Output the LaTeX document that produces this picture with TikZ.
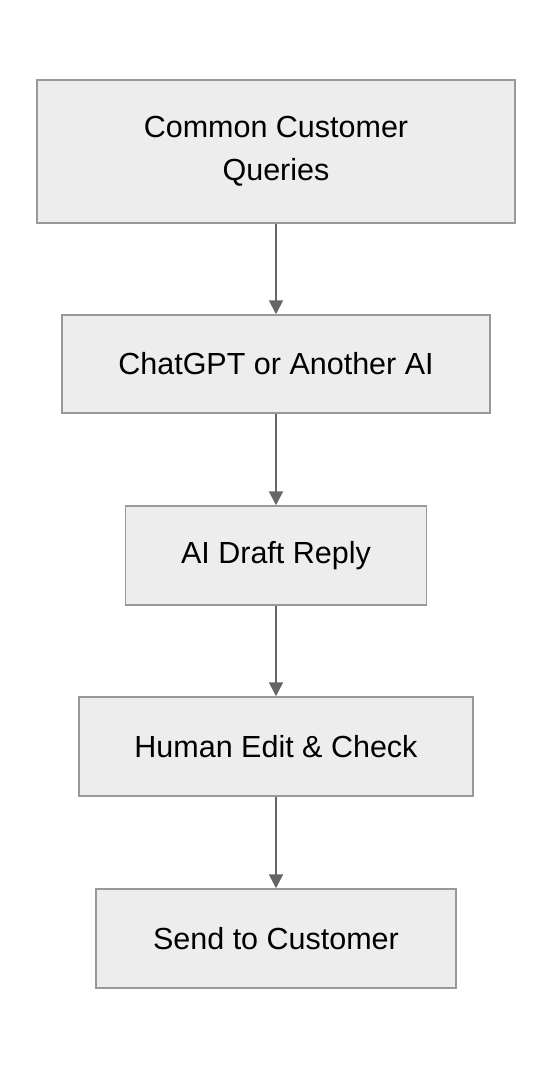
\documentclass[tikz,border=0pt]{standalone}
\usepackage{fontspec}
\setmainfont{Liberation Sans}
\usetikzlibrary{arrows.meta}

\begin{document}
\begin{tikzpicture}[x=1pt,y=-1pt]
\tikzstyle{every node}=[draw=black!40, fill=black!7, line width=1.5pt, align=center, inner sep=0pt, font=\fontsize{30.5}{43}\selectfont]
\tikzstyle{flow}=[draw=black!60, line width=2pt, -{Triangle[length=14pt,width=14pt]}]
\useasboundingbox (0,0) rectangle (552,1068);
\node (q1) [minimum width=478pt, minimum height=143pt] at (276,151.5) {Common Customer\\Queries};
\node (q2) [minimum width=428pt, minimum height=98pt] at (276,364) {ChatGPT or Another AI};
\node (q3) [minimum width=301pt, minimum height=99pt] at (276,555.5) {AI Draft Reply};
\node (q4) [minimum width=394pt, minimum height=99pt] at (276,746.5) {Human Edit \& Check};
\node (q5) [minimum width=360pt, minimum height=99pt] at (276,938.5) {Send to Customer};
\draw[flow] (q1) -- (q2);
\draw[flow] (q2) -- (q3);
\draw[flow] (q3) -- (q4);
\draw[flow] (q4) -- (q5);
\end{tikzpicture}
\end{document}
